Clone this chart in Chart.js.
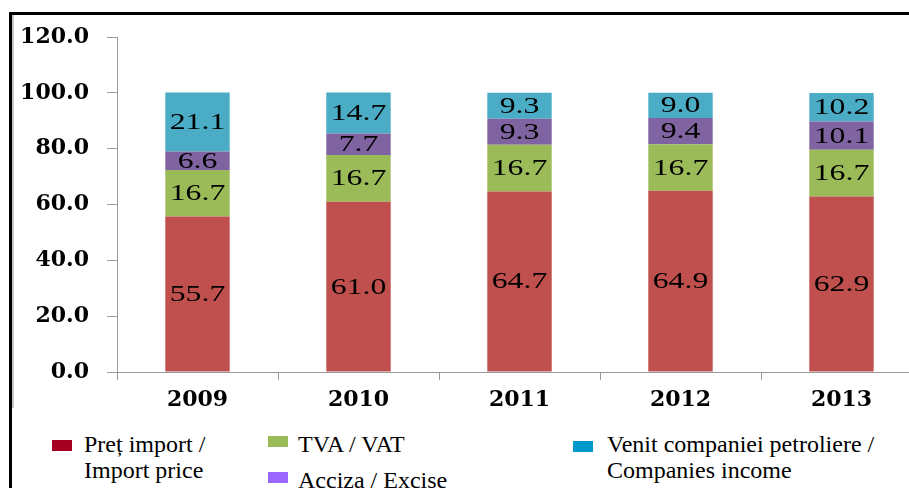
<!DOCTYPE html>
<html>
<head>
<meta charset="utf-8">
<script src="https://cdn.jsdelivr.net/npm/chart.js@4"></script>
<style>
  html, body { margin: 0; padding: 0; background: #fff; overflow: hidden; width: 909px; height: 488px; }
  #wrap { position: relative; width: 909px; height: 488px; overflow: hidden; }
  #chart { position: absolute; left: 0; top: 0; }
  .frame-top { position: absolute; left: 9px; top: 12px; width: 910px; height: 3px; background: #000; }
  .frame-left { position: absolute; left: 9px; top: 12px; width: 3px; height: 480px; background: #000; }
  .frame-inner { position: absolute; left: 12px; top: 15px; width: 2px; height: 393px; background: #c8c8c8; }
  .leg { position: absolute; font-family: "Liberation Serif", "Times New Roman", serif; font-size: 24px; line-height: 26px; color: #000; white-space: nowrap; }
  .sw { position: absolute; width: 20px; height: 11px; }
</style>
</head>
<body>
<div id="wrap">
  <canvas id="chart" width="935" height="410"></canvas>
  <div class="frame-top"></div>
  <div class="frame-left"></div>
  <div class="frame-inner"></div>
</div>
<script>
// Données
const years = ['2009', '2010', '2011', '2012', '2013'];
const importPrice = [55.7, 61.0, 64.7, 64.9, 62.9];
const vat = [16.7, 16.7, 16.7, 16.7, 16.7];
const excise = [6.6, 7.7, 9.3, 9.4, 10.1];
const companiesIncome = [21.1, 14.7, 9.3, 9.0, 10.2];
const yTicks = [0, 20, 40, 60, 80, 100, 120];

const seriesNames = [
  ['Preț import /', 'Import price'],
  ['TVA / VAT'],
  ['Acciza / Excise'],
  ['Venit companiei petroliere /', 'Companies income']
];
const barColors = ['#C0504D', '#9BBB59', '#8064A2', '#4BACC6'];
const legendColors = ['#A50021', '#9BBB59', '#9966FF', '#0099CC'];

// valeurs au centre des segments (texte un peu étiré comme l'original)
const segmentLabels = {
  id: 'segmentLabels',
  afterDatasetsDraw(chart) {
    const ctx = chart.ctx;
    ctx.save();
    ctx.fillStyle = '#000';
    ctx.font = '23px "Liberation Serif", "Times New Roman", serif';
    ctx.textAlign = 'center';
    ctx.textBaseline = 'middle';
    chart.data.datasets.forEach((ds, i) => {
      const meta = chart.getDatasetMeta(i);
      meta.data.forEach((bar, j) => {
        const p = bar.getProps(['x', 'y', 'base'], true);
        const cy = (p.y + p.base) / 2;
        ctx.save();
        ctx.translate(p.x, cy + 1);
        ctx.scale(1.38, 1);
        ctx.fillText(ds.data[j].toFixed(1), 0, 0);
        ctx.restore();
      });
    });
    ctx.restore();
  }
};

const axisColor = '#9a9a9a';
const tickFamily = '"DejaVu Serif", serif';

new Chart(document.getElementById('chart'), {
  type: 'bar',
  data: {
    labels: years,
    datasets: [
      { label: seriesNames[0].join(' '), data: importPrice, backgroundColor: barColors[0] },
      { label: seriesNames[1].join(' '), data: vat, backgroundColor: barColors[1] },
      { label: seriesNames[2].join(' '), data: excise, backgroundColor: barColors[2] },
      { label: seriesNames[3].join(' '), data: companiesIncome, backgroundColor: barColors[3] }
    ]
  },
  options: {
    responsive: false,
    animation: false,
    devicePixelRatio: 1,
    layout: { padding: { left: 0, top: 37, right: 13, bottom: 0 } },
    datasets: { bar: { categoryPercentage: 1, barPercentage: 0.4, borderWidth: 0 } },
    plugins: { legend: { display: false }, tooltip: { enabled: false } },
    scales: {
      x: {
        stacked: true,
        offset: true,
        grid: { display: true, drawOnChartArea: false, offset: true, color: axisColor, tickLength: 8 },
        border: { color: axisColor, width: 1 },
        ticks: { color: '#000', font: { family: tickFamily, size: 22, weight: 'bold' }, padding: 7 },
        afterFit(scale) { scale.height = 38; }
      },
      y: {
        stacked: true,
        min: yTicks[0],
        max: yTicks[yTicks.length - 1],
        afterBuildTicks(scale) { scale.ticks = yTicks.map(v => ({ value: v })); },
        grid: { display: true, drawOnChartArea: false, color: axisColor, tickLength: 10 },
        border: { color: axisColor, width: 1 },
        ticks: { color: '#000', font: { family: tickFamily, size: 22, weight: 'bold' }, padding: 18, callback: v => Number(v).toFixed(1) },
        afterFit(scale) { scale.width = 117; }
      }
    }
  },
  plugins: [segmentLabels]
});

// Légende
const wrap = document.getElementById('wrap');
const legendPos = [
  { sx: 52, sy: 440, tx: 84, ty: 431 },
  { sx: 268, sy: 436, tx: 298, ty: 431 },
  { sx: 268, sy: 472, tx: 298, ty: 467 },
  { sx: 573, sy: 441, tx: 607, ty: 431 }
];
legendPos.forEach((p, i) => {
  const sw = document.createElement('div');
  sw.className = 'sw';
  sw.style.left = p.sx + 'px';
  sw.style.top = p.sy + 'px';
  sw.style.background = legendColors[i];
  wrap.appendChild(sw);
  const t = document.createElement('div');
  t.className = 'leg';
  t.style.left = p.tx + 'px';
  t.style.top = p.ty + 'px';
  t.innerHTML = seriesNames[i].join('<br>');
  wrap.appendChild(t);
});
</script>
</body>
</html>
